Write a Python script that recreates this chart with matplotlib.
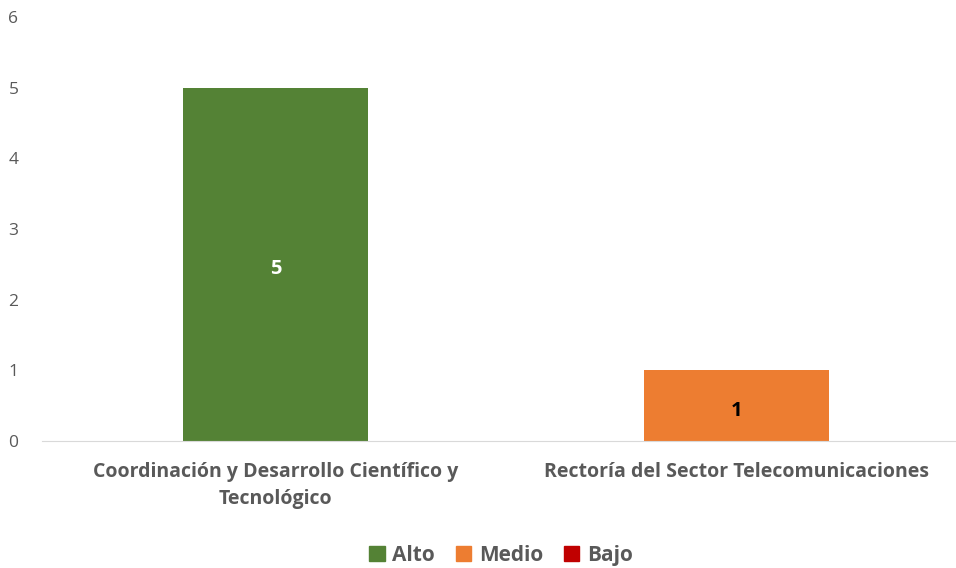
import matplotlib.pyplot as plt
from matplotlib.patches import Patch

plt.rcParams['font.family'] = ['Open Sans', 'DejaVu Sans']

# data
categories = ['Coordinación y Desarrollo Científico y\nTecnológico',
              'Rectoría del Sector Telecomunicaciones']
values = [5, 1]
levels = ['Alto', 'Medio']
legend_names = ['Alto', 'Medio', 'Bajo']

colors = {'Alto': '#548235', 'Medio': '#ED7D31', 'Bajo': '#C00000'}
label_colors = {'Alto': 'white', 'Medio': 'black'}
grey = '#595959'

fig = plt.figure(figsize=(9.56, 5.68), dpi=100)
ax = fig.add_axes([0.044, 0.2236, 0.955, 0.7464])

x = range(len(categories))
bars = ax.bar(x, values, width=0.4, color=[colors[l] for l in levels])
for b, v, l in zip(bars, values, levels):
    ax.text(b.get_x() + b.get_width() / 2, v / 2 - 0.07, str(v), ha='center', va='center',
            fontsize=14.5, fontweight='bold', color=label_colors[l])

ax.set_xlim(-0.5065, 1.474)
ax.set_ylim(0, 6)
ax.set_yticks(range(7))
ax.set_xticks(list(x))
ax.set_xticklabels(categories, fontsize=14, fontweight='bold', color=grey,
                   multialignment='center', linespacing=1.5)
ax.tick_params(axis='y', length=0, labelsize=12.5, labelcolor=grey, pad=17)
ax.tick_params(axis='x', length=0, pad=15)
for s in ['top', 'right', 'left']:
    ax.spines[s].set_visible(False)
ax.spines['bottom'].set_color('#d9d9d9')

handles = [Patch(color=colors[n]) for n in legend_names]
fig.legend(handles, legend_names, loc='center', bbox_to_anchor=(0.524, 0.022),
           ncol=3, frameon=False, handlelength=0.75, handleheight=0.75,
           handletextpad=0.35, columnspacing=1.0,
           prop={'size': 15, 'weight': 'bold'}, labelcolor=grey)

fig.savefig('out.png', dpi=100)
